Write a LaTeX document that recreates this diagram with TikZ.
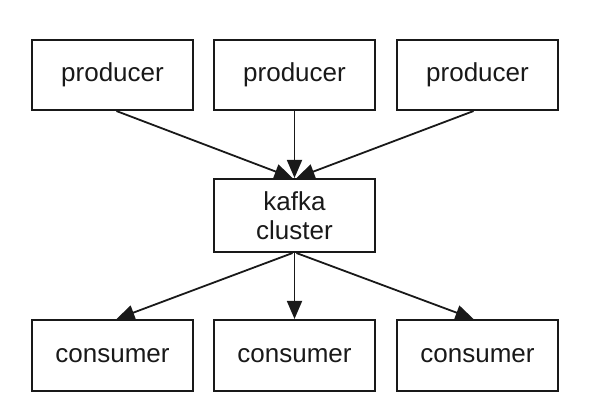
\documentclass[tikz,border=0pt]{standalone}
\usepackage{fontspec}
\setmainfont{Liberation Sans}
\usetikzlibrary{arrows.meta}
\begin{document}
\begin{tikzpicture}[x=1pt,y=-1pt,
  box/.style={draw=black!90, line width=2.1pt, minimum width=161pt, minimum height=70pt,
    inner sep=0pt, font=\fontsize{26}{30}\selectfont, align=center, text=black!90},
  conn/.style={line width=1.8pt, draw=black!90, -{Triangle[length=18pt,width=15pt]}}]
\useasboundingbox (0,0) rectangle (604,417);
\node[box] (p1) at (112.5,75) {producer};
\node[box] (p2) at (294.5,75) {producer};
\node[box] (p3) at (477.5,75) {producer};
\node[box, minimum height=73pt] (k) at (294.5,215.5) {kafka\\[-1pt]cluster};
\node[box, minimum height=71pt] (c1) at (112.5,355.5) {consumer};
\node[box, minimum height=71pt] (c2) at (294.5,355.5) {consumer};
\node[box, minimum height=71pt] (c3) at (477.5,355.5) {consumer};
\draw[conn] ([xshift=4pt]p1.south) -- ([xshift=-2pt]k.north);
\draw[conn] (p2.south) -- (k.north);
\draw[conn] ([xshift=-4pt]p3.south) -- ([xshift=2pt]k.north);
\draw[conn] ([xshift=-2pt]k.south) -- ([xshift=4pt]c1.north);
\draw[conn] (k.south) -- (c2.north);
\draw[conn] ([xshift=2pt]k.south) -- ([xshift=-4pt]c3.north);
\end{tikzpicture}
\end{document}
